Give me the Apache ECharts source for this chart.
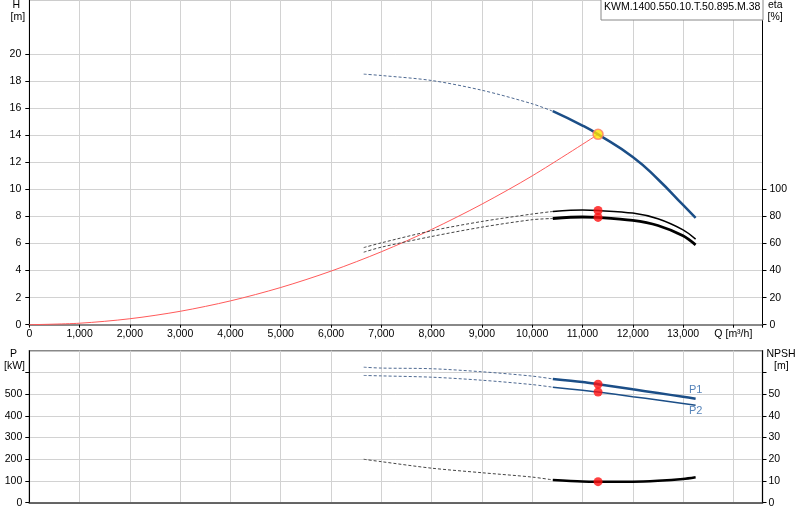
<!DOCTYPE html>
<html>
<head>
<meta charset="utf-8">
<script src="https://cdn.jsdelivr.net/npm/echarts@6/dist/echarts.min.js"></script>
<style>
html,body{margin:0;padding:0;background:#fff;}
#c{width:800px;height:520px;}
</style>
</head>
<body>
<div id="c"></div>
<script>
// ---- data ----
const Q_DASH  = [6650, 7000, 8000, 9000, 10000, 10410];
const Q_SOLID = [10410, 11000, 11310, 12000, 12500, 13000, 13250];

const H_DASH  = [18.52, 18.42, 18.05, 17.33, 16.33, 15.78];
const H_SOLID = [15.78, 14.72, 14.07, 12.4, 10.75, 8.85, 7.9];

const ETA1_DASH  = [57.0, 60.5, 69.4, 76.3, 81.8, 83.7];
const ETA1_SOLID = [83.7, 84.7, 84.4, 82.5, 78.3, 70.1, 63.3];
const ETA2_DASH  = [53.6, 57.3, 65.2, 72.1, 77.6, 78.5];
const ETA2_SOLID = [78.5, 79.6, 79.3, 77.1, 73.3, 65.7, 59.0];

const P1_DASH  = [624, 620, 617, 603, 583, 570];
const P1_SOLID = [570, 556, 546, 522, 505, 488, 479];
const P2_DASH  = [586, 584, 578, 564, 544, 532];
const P2_SOLID = [532, 518, 510, 488, 473, 457, 449];

const NPSH_DASH  = [20.0, 18.9, 15.9, 13.8, 11.8, 10.5];
const NPSH_SOLID = [10.5, 9.8, 9.7, 9.7, 10.1, 10.9, 11.7];

const Q_SYS = [0, 1000, 2000, 3000, 4000, 5000, 6000, 7000, 8000, 9000, 10000, 11310];
const H_SYS = [0, 0.11, 0.44, 0.99, 1.76, 2.75, 3.96, 5.39, 7.04, 8.91, 11.0, 14.07];

const DUTY_Q = 11310;
const DUTY_H = 14.07;
const DUTY_ETA = [84.4, 79.3];
const DUTY_P = [546, 510];
const DUTY_NPSH = 9.7;

const H_TICKS = [0, 2, 4, 6, 8, 10, 12, 14, 16, 18, 20];
const ETA_TICKS = [0, 20, 40, 60, 80, 100];
const P_TICKS = [0, 100, 200, 300, 400, 500];
const P_TICK_MARKS = [0, 100, 200, 300, 400, 500, 600];
const NPSH_TICKS = [0, 10, 20, 30, 40, 50];
const NPSH_TICK_MARKS = [0, 10, 20, 30, 40, 50, 60];
const TITLE = 'KWM.1400.550.10.T.50.895.M.38';
const Q_UNIT = 'Q [m³/h]';

// ---- helpers ----
const zip = (xs, ys) => xs.map((x, i) => [x, ys[i]]);
const FONT = 'Liberation Sans, Arial, sans-serif';
const BLUE = '#1b4e87';
const gridLine = {show: true, lineStyle: {color: '#d2d2d2', width: 1}};
const lbl = (extra) => Object.assign({color: '#000', fontSize: 10.5, fontFamily: FONT}, extra);
const fmtQ = v => {
  if (v === 14000) return Q_UNIT;
  if (v % 1000 !== 0) return '';
  return String(v).replace(/\B(?=(\d{3})+(?!\d))/g, ',');
};

function line(name, xs, ys, xi, yi, style, z, sm) {
  return {
    name, type: 'line', xAxisIndex: xi, yAxisIndex: yi,
    data: zip(xs, ys), showSymbol: false, smooth: sm || 0.3,
    lineStyle: style, z: z || 2, silent: true, animation: false
  };
}
const dash = (c) => ({color: c, width: 1, type: [3, 2]});

const chart = echarts.init(document.getElementById('c'), null, {renderer: 'canvas'});

const option = {
  animation: false,
  backgroundColor: '#fff',
  grid: [
    {left: 29.3, right: 37.5, top: 0, height: 324.7, show: true, borderColor: '#999', borderWidth: 1, backgroundColor: 'transparent'},
    {left: 29.3, right: 37.5, top: 350.7, height: 152, show: true, borderColor: '#888', borderWidth: 1.5, backgroundColor: 'transparent'}
  ],
  xAxis: [
    {type: 'value', gridIndex: 0, min: 0, max: 14580, interval: 1000,
      axisLine: {show: true, onZero: false, lineStyle: {color: '#888', width: 2}},
      axisTick: {show: true, length: 3, lineStyle: {color: '#000'}},
      axisLabel: lbl({margin: 4, formatter: fmtQ, showMaxLabel: true}),
      splitLine: gridLine},
    {type: 'value', gridIndex: 1, min: 0, max: 14580, interval: 1000,
      axisLine: {show: true, onZero: false, lineStyle: {color: '#444', width: 1.5}},
      axisTick: {show: false}, axisLabel: {show: false},
      splitLine: gridLine}
  ],
  yAxis: [
    {type: 'value', gridIndex: 0, position: 'left', min: 0, max: 24, interval: 2,
      axisLine: {show: true, onZero: false, lineStyle: {color: '#000', width: 1}},
      axisTick: {show: true, length: 4, inside: false, customValues: H_TICKS, lineStyle: {color: '#000'}},
      axisLabel: lbl({margin: 8, customValues: H_TICKS}),
      splitLine: gridLine},
    {type: 'value', gridIndex: 0, position: 'right', min: 0, max: 240, interval: 20,
      axisLine: {show: true, onZero: false, lineStyle: {color: '#000', width: 1}},
      axisTick: {show: true, length: 4, customValues: ETA_TICKS, lineStyle: {color: '#000'}},
      axisLabel: lbl({margin: 7, customValues: ETA_TICKS}),
      splitLine: {show: false}},
    {type: 'value', gridIndex: 1, position: 'left', min: 0, max: 700, interval: 100,
      axisLine: {show: true, onZero: false, lineStyle: {color: '#000', width: 1}},
      axisTick: {show: true, length: 4, customValues: P_TICK_MARKS, lineStyle: {color: '#000'}},
      axisLabel: lbl({margin: 7, customValues: P_TICKS}),
      splitLine: gridLine},
    {type: 'value', gridIndex: 1, position: 'right', min: 0, max: 70, interval: 10,
      axisLine: {show: true, onZero: false, lineStyle: {color: '#000', width: 1}},
      axisTick: {show: true, length: 4, customValues: NPSH_TICK_MARKS, lineStyle: {color: '#000'}},
      axisLabel: lbl({margin: 6, customValues: NPSH_TICKS}),
      splitLine: {show: false}}
  ],
  series: [
    line('system', Q_SYS, H_SYS, 0, 0, {color: '#ff5a5a', width: 1}, 2),
    line('H dashed', Q_DASH, H_DASH, 0, 0, dash('#4f6a92'), 3),
    line('H', Q_SOLID, H_SOLID, 0, 0, {color: BLUE, width: 2.5}, 3, 0.5),
    line('eta1 dashed', Q_DASH, ETA1_DASH, 0, 1, dash('#444'), 3),
    line('eta1', Q_SOLID, ETA1_SOLID, 0, 1, {color: '#000', width: 1.5}, 3),
    line('eta2 dashed', Q_DASH, ETA2_DASH, 0, 1, dash('#444'), 3),
    line('eta2', Q_SOLID, ETA2_SOLID, 0, 1, {color: '#000', width: 2.8}, 3),
    line('P1 dashed', Q_DASH, P1_DASH, 1, 2, dash('#4f6a92'), 3),
    line('P1', Q_SOLID, P1_SOLID, 1, 2, {color: BLUE, width: 2.5}, 3),
    line('P2 dashed', Q_DASH, P2_DASH, 1, 2, dash('#4f6a92'), 3),
    line('P2', Q_SOLID, P2_SOLID, 1, 2, {color: BLUE, width: 1.5}, 3),
    line('NPSH dashed', Q_DASH, NPSH_DASH, 1, 3, dash('#444'), 3),
    line('NPSH', Q_SOLID, NPSH_SOLID, 1, 3, {color: '#000', width: 2.5}, 3),
    {type: 'scatter', xAxisIndex: 0, yAxisIndex: 0, data: [[DUTY_Q, DUTY_H]], symbolSize: 10,
      itemStyle: {color: '#ffe400', borderColor: '#ff7a6a', borderWidth: 1.5}, z: 6, silent: true},
    {type: 'scatter', xAxisIndex: 0, yAxisIndex: 1, data: DUTY_ETA.map(v => [DUTY_Q, v]), symbolSize: 9,
      itemStyle: {color: '#ff1010'}, z: 6, silent: true},
    {type: 'scatter', xAxisIndex: 1, yAxisIndex: 2, data: DUTY_P.map(v => [DUTY_Q, v]), symbolSize: 9,
      itemStyle: {color: '#ff1010'}, z: 6, silent: true},
    {type: 'scatter', xAxisIndex: 1, yAxisIndex: 3, data: [[DUTY_Q, DUTY_NPSH]], symbolSize: 9,
      itemStyle: {color: '#ff1010'}, z: 6, silent: true},
    {type: 'scatter', xAxisIndex: 1, yAxisIndex: 2, symbolSize: 0, silent: true, z: 6,
      data: [
        {value: [Q_SOLID[Q_SOLID.length - 1], P1_SOLID[P1_SOLID.length - 1]],
          label: {show: true, formatter: 'P1', position: 'top', distance: 3, color: '#2a64a8', fontSize: 11, fontFamily: FONT}},
        {value: [Q_SOLID[Q_SOLID.length - 1], P2_SOLID[P2_SOLID.length - 1]],
          label: {show: true, formatter: 'P2', position: 'bottom', distance: 0, color: '#2a64a8', fontSize: 11, fontFamily: FONT}}
      ]}
  ],
  graphic: [
    {type: 'text', left: 12.5, top: 0, style: {text: 'H', font: '10.5px ' + FONT, fill: '#000'}},
    {type: 'text', left: 10.5, top: 12, style: {text: '[m]', font: '10.5px ' + FONT, fill: '#000'}},
    {type: 'text', left: 768, top: 0, style: {text: 'eta', font: '10.5px ' + FONT, fill: '#000'}},
    {type: 'text', left: 767.5, top: 11.5, style: {text: '[%]', font: '10.5px ' + FONT, fill: '#000'}},
    {type: 'text', left: 10, top: 349, style: {text: 'P', font: '10.5px ' + FONT, fill: '#000'}},
    {type: 'text', left: 4, top: 361, style: {text: '[kW]', font: '10.5px ' + FONT, fill: '#000'}},
    {type: 'text', left: 766.5, top: 349, style: {text: 'NPSH', font: '10.5px ' + FONT, fill: '#000'}},
    {type: 'text', left: 774, top: 361, style: {text: '[m]', font: '10.5px ' + FONT, fill: '#000'}},
    {type: 'rect', left: 600.5, top: -5, z: 10,
      shape: {width: 162, height: 24.5},
      style: {fill: '#fff', stroke: '#888', lineWidth: 1}},
    {type: 'text', left: 604, top: 2, z: 11, style: {text: TITLE, font: '10.5px ' + FONT, fill: '#000'}}
  ]
};
chart.setOption(option);
</script>
</body>
</html>
